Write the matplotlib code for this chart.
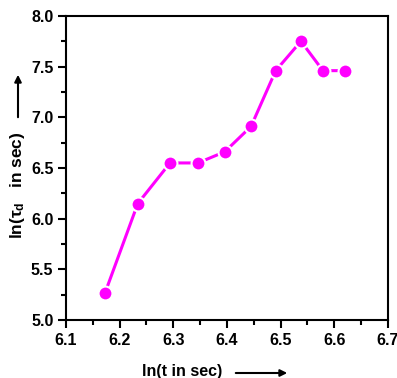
import matplotlib.pyplot as plt
from matplotlib.ticker import MultipleLocator

# ln(t) and ln(tau_d)
ln_t = [6.173, 6.234, 6.294, 6.346, 6.396, 6.445, 6.491, 6.538, 6.579, 6.620]
ln_tau = [5.27, 6.15, 6.55, 6.55, 6.66, 6.91, 7.46, 7.75, 7.46, 7.46]

plt.rcParams['font.family'] = 'Liberation Sans'
plt.rcParams['font.weight'] = 'bold'
plt.rcParams['mathtext.fontset'] = 'custom'
plt.rcParams['mathtext.rm'] = 'Liberation Sans:bold'
plt.rcParams['mathtext.it'] = 'Liberation Sans:bold'

fig = plt.figure(figsize=(3.97, 3.78), dpi=100)
ax = fig.add_axes([0.166, 0.153, 0.811, 0.805])

ax.plot(ln_t, ln_tau, '-o', color='#ff00ff', lw=2.2, ms=10,
        mec='white', mew=1.5, clip_on=False)

ax.set_xlim(6.1, 6.7)
ax.set_ylim(5.0, 8.0)
ax.xaxis.set_major_locator(MultipleLocator(0.1))
ax.xaxis.set_minor_locator(MultipleLocator(0.05))
ax.yaxis.set_major_locator(MultipleLocator(0.5))
ax.yaxis.set_minor_locator(MultipleLocator(0.25))
ax.tick_params(which='major', length=6, width=1.5, labelsize=11.5, pad=3)
ax.tick_params(which='minor', length=3.5, width=1.5)
for lab in ax.get_xticklabels() + ax.get_yticklabels():
    lab.set_fontweight('bold')
for s in ax.spines.values():
    s.set_linewidth(1.5)

# axis labels with arrows
fig.text(0.46, 0.006, 'ln(t in sec)', fontsize=11.5, fontweight='bold',
         ha='center', va='baseline')
ax.annotate('', xy=(290 / 397, 1 - 373 / 378), xytext=(233 / 397, 1 - 373 / 378),
            xycoords='figure fraction',
            arrowprops=dict(arrowstyle='-|>', color='black', lw=1.5,
                            mutation_scale=10))
fig.text(0.044, 1 - 185 / 378, r'ln($\tau_d$   in sec)', fontsize=12.5,
         fontweight='bold', rotation=90, ha='center', va='center')
ax.annotate('', xy=(18 / 397, 1 - 72 / 378), xytext=(18 / 397, 1 - 120 / 378),
            xycoords='figure fraction',
            arrowprops=dict(arrowstyle='-|>', color='black', lw=1.5,
                            mutation_scale=10))

fig.savefig('out.png', dpi=100)
